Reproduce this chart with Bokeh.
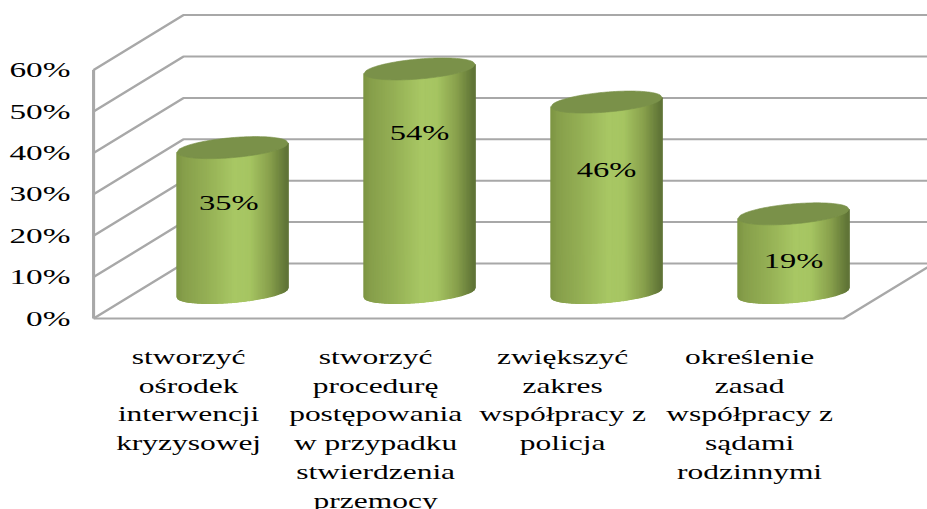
from math import sqrt
from bokeh.plotting import figure
from bokeh.models import Range1d, FixedTicker
from bokeh.core.properties import value
from bokeh.embed import file_html
from bokeh.resources import INLINE

# ---- data ----
categories = [
    "stworzyć\nośrodek\ninterwencji\nkryzysowej",
    "stworzyć\nprocedurę\npostępowania\nw przypadku\nstwierdzenia\nprzemocy",
    "zwiększyć\nzakres\nwspółpracy z\npolicja",
    "określenie\nzasad\nwspółpracy z\nsądami\nrodzinnymi",
]
values = [35, 54, 46, 19]
value_labels = ["35%", "54%", "46%", "19%"]
y_ticks = [0, 10, 20, 30, 40, 50, 60]
y_tick_labels = ["0%", "10%", "20%", "30%", "40%", "50%", "60%"]

# ---- the reference is a horizontally stretched picture: same stretch via CSS ----
W, H = 593, 493
SX, SY = 919 / W, 501 / H
BORDER_LEFT = 54
# Bokeh measures its box after the transform, so its canvas ends up this large
CANVAS_W, CANVAS_H = W * SX, H * SY
# where the scaled canvas is found to start on the screen
ORIGIN_X, ORIGIN_Y = 2.2, 0.0

# screen geometry of the 3-D box (pixels in the reference)
PX_PER_CAT, PX_CAT0 = 187.0, 190.0
PX_PER_PCT, PY_ZERO = 4.14, 318.0


def xu(px):
    return (px - PX_CAT0) / PX_PER_CAT


def yu(py):
    return (PY_ZERO - py) / PX_PER_PCT


frame_left = ORIGIN_X + BORDER_LEFT * SX
frame_right = ORIGIN_X + CANVAS_W * SX
frame_bottom = ORIGIN_Y + CANVAS_H * SY
p = figure(
    width=W, height=H, output_backend="svg", toolbar_location=None,
    x_range=Range1d(xu(frame_left), xu(frame_right)),
    y_range=Range1d(yu(frame_bottom), yu(ORIGIN_Y)),
    x_axis_location=None, min_border_left=BORDER_LEFT, min_border_right=0,
    min_border_top=0, min_border_bottom=0, background_fill_color="white",
    border_fill_color="white", outline_line_color=None,
)
p.styles = {"transform": f"scale({SX:.5f},{SY:.5f})", "transform-origin": "0 0"}
p.grid.visible = False

# left axis
ax = p.yaxis[0]
ax.ticker = FixedTicker(ticks=y_ticks)
ax.major_label_overrides = {t: s for t, s in zip(y_ticks, y_tick_labels)}
ax.axis_line_color = None
ax.major_tick_line_color = None
ax.minor_tick_line_color = None
ax.major_tick_out = 0
ax.major_tick_in = 0
ax.major_label_standoff = 9
ax.major_label_text_font = "Liberation Serif"
ax.major_label_text_font_size = "21.5px"
ax.major_label_text_color = "#000000"

# walls and floor
GRID = "#a8a8a8"
x_front, x_back = xu(95), xu(185)
depth = 55 / PX_PER_PCT
x_end = xu(930)
x_floor_right = xu(845)
xs, ys = [], []
for t in y_ticks:
    xs.append([x_front, x_back, x_end])
    ys.append([t, t + depth, t + depth])
xs.append([x_front, x_front])
ys.append([0, y_ticks[-1]])
xs.append([x_front, x_floor_right, x_floor_right + (x_back - x_front)])
ys.append([0, 0, depth])
p.multi_line(xs, ys, line_color=GRID, line_width=2)

# cylinders
BASE = (PY_ZERO - 292) / PX_PER_PCT      # floor offset of the cylinder base
DX = 44 / PX_PER_CAT                     # depth offset of the cylinders
A = 55.5 / PX_PER_CAT                    # half width
B = 10.0 / PX_PER_PCT                    # half thickness of the ellipse
K = 4.6 / PX_PER_PCT                     # tilt of the ellipse
SHADE_STOPS = [
    (0.00, (124, 148, 66)), (0.06, (134, 158, 74)), (0.30, (150, 178, 86)),
    (0.52, (168, 199, 100)), (0.66, (166, 197, 98)), (0.84, (136, 160, 76)),
    (0.95, (106, 128, 60)), (1.00, (94, 114, 54)),
]
TOP_COLOR = "#7a9149"
N = 80


def shade(f):
    for (f0, c0), (f1, c1) in zip(SHADE_STOPS, SHADE_STOPS[1:]):
        if f <= f1:
            r = (f - f0) / (f1 - f0)
            return "#%02x%02x%02x" % tuple(round(a + (b - a) * r) for a, b in zip(c0, c1))
    return "#5e7236"


for i, v in enumerate(values):
    cx = i + DX
    top = BASE + v
    px, py, cols = [], [], []
    for j in range(N):
        u0, u1 = -1 + 2 * j / N, -1 + 2 * (j + 1) / N
        low0 = K * u0 - B * sqrt(max(0, 1 - u0 * u0))
        low1 = K * u1 - B * sqrt(max(0, 1 - u1 * u1))
        px.append([cx + A * u0, cx + A * u1, cx + A * u1, cx + A * u0])
        py.append([top + low0, top + low1, BASE + low1, BASE + low0])
        cols.append(shade((j + 0.5) / N))
    p.patches(px, py, fill_color=cols, line_color=cols, line_width=1)
    us = [-1 + 2 * j / 60 for j in range(61)]
    ex = [cx + A * u for u in us] + [cx + A * u for u in reversed(us)]
    ey = [top + K * u - B * sqrt(max(0, 1 - u * u)) for u in us] + \
         [top + K * u + B * sqrt(max(0, 1 - u * u)) for u in reversed(us)]
    p.patch(ex, ey, fill_color=TOP_COLOR, line_color=TOP_COLOR, line_width=0.5)

# labels on the cylinders (distance below the bar's value)
label_drop = [7.0, 9.1, 10.0, 5.2]
p.text(
    [i + DX - 0.02 * (i == 0) for i in range(4)],
    [v - d for v, d in zip(values, label_drop)],
    text=value_labels, text_align="center", text_baseline="middle",
    text_font=value("Liberation Serif"), text_font_size="21px", text_color="#000000",
)

# category labels
p.text(
    list(range(4)), [yu(345)] * 4, text=categories,
    text_align="center", text_baseline="top", text_line_height=1.29,
    text_font=value("Liberation Serif"), text_font_size="20.3px", text_color="#000000",
)

open("out.html", "w").write(file_html(p, INLINE))
